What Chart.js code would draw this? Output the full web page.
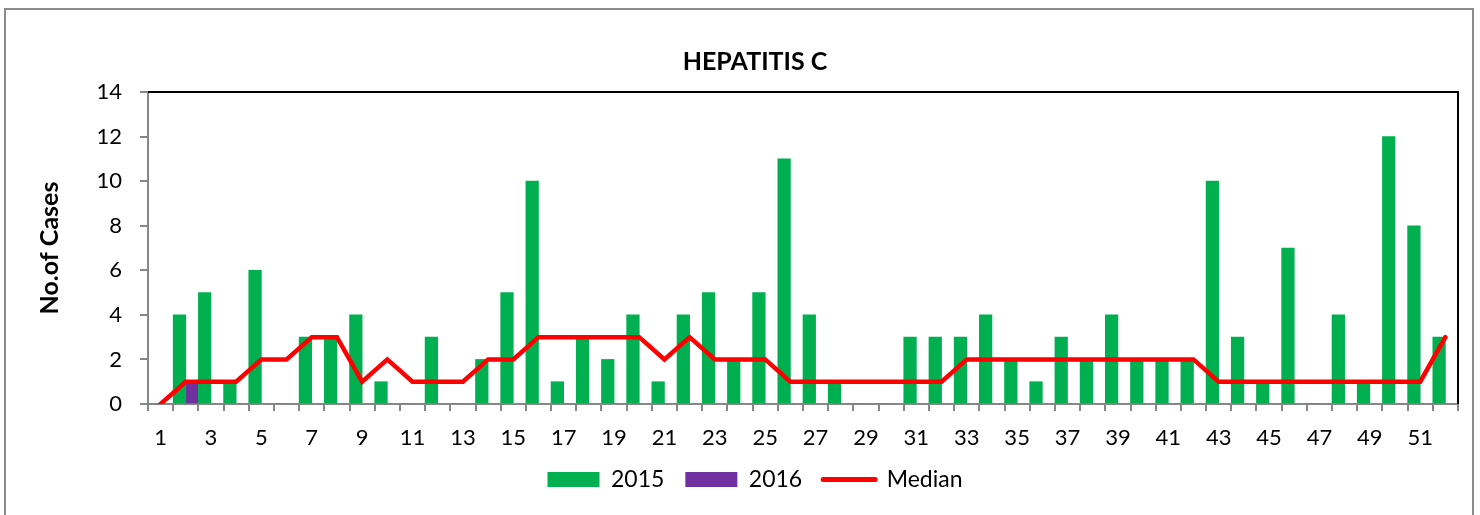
<!DOCTYPE html>
<html><head><meta charset="utf-8">
<script src="https://cdn.jsdelivr.net/npm/chart.js@4/dist/chart.umd.min.js"></script>
<style>html,body{margin:0;padding:0;background:#fff;overflow:hidden}</style>
</head><body>
<canvas id="c" width="1480" height="515"></canvas>
<script>
const weeks = ['1','2','3','4','5','6','7','8','9','10','11','12','13','14','15','16','17','18','19','20','21','22','23','24','25','26','27','28','29','30','31','32','33','34','35','36','37','38','39','40','41','42','43','44','45','46','47','48','49','50','51','52'];
const cases2015 = [0,4,5,1,6,0,3,3,4,1,0,3,0,2,5,10,1,3,2,4,1,4,5,2,5,11,4,1,0,0,3,3,3,4,2,1,3,2,4,2,2,2,10,3,1,7,0,4,1,12,8,3];
const cases2016 = [null,1,null,null,null,null,null,null,null,null,null,null,null,null,null,null,null,null,null,null,null,null,null,null,null,null,null,null,null,null,null,null,null,null,null,null,null,null,null,null,null,null,null,null,null,null,null,null,null,null,null,null];
const median = [0,1,1,1,2,2,3,3,1,2,1,1,1,2,2,3,3,3,3,3,2,3,2,2,2,1,1,1,1,1,1,1,2,2,2,2,2,2,2,2,2,2,1,1,1,1,1,1,1,1,1,3];
const yTicks = [0,2,4,6,8,10,12,14];

const FONT = 'Lato, "Open Sans", sans-serif';
const GREEN = '#00B050', PURPLE = '#7030A0', RED = '#FF0000', AXIS = '#878787';

const frame = {
  id: 'frame',
  beforeDraw(chart) {
    const ctx = chart.ctx;
    ctx.save();
    ctx.fillStyle = '#fff';
    ctx.fillRect(0, 0, chart.width, chart.height);
    ctx.strokeStyle = '#8c8c8c';
    ctx.lineWidth = 2;
    ctx.strokeRect(5, 9, 1468, 560);
    ctx.restore();
  },
  beforeDatasetsDraw(chart) {
    const {ctx, chartArea: a} = chart;
    ctx.save();
    ctx.strokeStyle = '#000';
    ctx.lineWidth = 2;
    ctx.beginPath();
    ctx.moveTo(a.left, a.top);
    ctx.lineTo(a.right, a.top);
    ctx.lineTo(a.right, a.bottom);
    ctx.stroke();
    ctx.restore();
  }
};

new Chart(document.getElementById('c'), {
  data: {
    labels: weeks,
    datasets: [
      {type: 'line', label: 'Median', data: median, borderColor: RED, backgroundColor: RED,
       borderWidth: 4.5, pointRadius: 0, tension: 0, borderCapStyle: 'round', borderJoinStyle: 'miter', order: 0},
      {type: 'bar', label: '2015', data: cases2015, backgroundColor: GREEN, order: 1,
       categoryPercentage: 1.0, barPercentage: 1.0},
      {type: 'bar', label: '2016', data: cases2016, backgroundColor: PURPLE, order: 2,
       categoryPercentage: 1.0, barPercentage: 1.0}
    ]
  },
  options: {
    responsive: false,
    devicePixelRatio: 1,
    animation: false,
    layout: {padding: {left: 52, right: 22, top: 0, bottom: 14}},
    plugins: {
      tooltip: {enabled: false},
      title: {display: true, text: 'HEPATITIS C', color: '#000',
        font: {family: FONT, size: 25, weight: 'bold'}, padding: {top: 47, bottom: 15}},
      legend: {
        position: 'bottom',
        labels: {
          usePointStyle: true, pointStyleWidth: 52, boxHeight: 15, padding: 21,
          color: '#000', font: {family: FONT, size: 23},
          generateLabels(chart) {
            return [
              {text: '2015', fillStyle: GREEN, strokeStyle: GREEN, lineWidth: 0, pointStyle: 'rect', datasetIndex: 1, hidden: false},
              {text: '2016', fillStyle: PURPLE, strokeStyle: PURPLE, lineWidth: 0, pointStyle: 'rect', datasetIndex: 2, hidden: false},
              {text: 'Median', fillStyle: RED, strokeStyle: RED, lineWidth: 5, lineCap: 'round', pointStyle: 'line', datasetIndex: 0, hidden: false}
            ];
          }
        }
      }
    },
    scales: {
      x: {
        type: 'category',
        offset: true,
        grid: {display: true, offset: true, drawOnChartArea: false, drawTicks: true, tickLength: 7, color: AXIS, lineWidth: 2},
        border: {display: true, color: AXIS, width: 2},
        ticks: {autoSkip: false, maxRotation: 0, minRotation: 0, padding: 14, color: '#000',
          font: {family: FONT, size: 22},
          callback(v, i) { return i % 2 === 0 ? weeks[i] : ''; }},
        afterFit(s) { s.height = 43; }
      },
      y: {
        min: 0, max: 14,
        afterBuildTicks(s) { s.ticks = yTicks.map(v => ({value: v})); },
        grid: {display: true, drawOnChartArea: false, drawTicks: true, tickLength: 8, color: AXIS, lineWidth: 2},
        border: {display: true, color: AXIS, width: 2},
        ticks: {padding: 18, color: '#000', font: {family: FONT, size: 22}},
        title: {display: true, text: 'No.of Cases', color: '#000',
          font: {family: FONT, size: 25, weight: 'bold'}, padding: {top: -17, bottom: 0}},
        afterFit(s) { s.width = 96; }
      }
    }
  },
  plugins: [frame]
});
</script>
</body></html>
